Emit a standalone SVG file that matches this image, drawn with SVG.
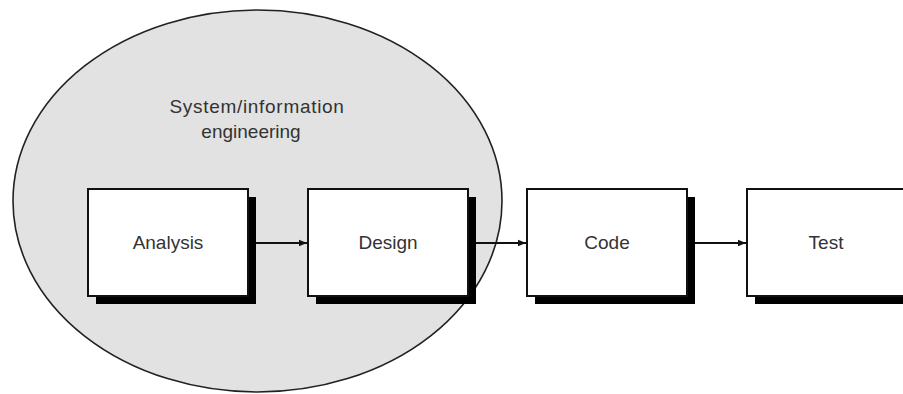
<svg xmlns="http://www.w3.org/2000/svg" width="903" height="394" viewBox="0 0 903 394">
  <style>
    .box { fill: #ffffff; stroke: #111111; stroke-width: 2; }
    .shadow { fill: #000000; }
    .label { font-family: "Liberation Sans", Arial, sans-serif; font-size: 19px; fill: #333333; text-anchor: middle; }
    .conn { stroke: #111111; stroke-width: 2; fill: none; marker-end: url(#arrow); }
  </style>
  <defs>
    <marker id="arrow" viewBox="0 0 10 10" refX="10" refY="5" markerWidth="8" markerHeight="8" markerUnits="userSpaceOnUse" orient="auto">
      <path d="M0,1 L10,5 L0,9 Z" fill="#111111"/>
    </marker>
  </defs>
  <rect width="903" height="394" fill="#ffffff"/>

  <!-- scope of system/information engineering -->
  <g id="scope">
    <ellipse cx="257.5" cy="201" rx="244.5" ry="191" fill="#e2e2e2" stroke="#222222" stroke-width="1.6"/>
    <text class="label" x="257" y="113" letter-spacing="0.7">System/information</text>
    <text class="label" x="251" y="138">engineering</text>
  </g>

  <g id="analysis">
    <rect class="shadow" x="96" y="197" width="160" height="107"/>
    <rect class="box" x="88" y="189" width="160" height="107"/>
    <text class="label" x="168" y="249">Analysis</text>
  </g>

  <g id="design">
    <rect class="shadow" x="316" y="197" width="160" height="107"/>
    <rect class="box" x="308" y="189" width="160" height="107"/>
    <text class="label" x="388" y="249">Design</text>
  </g>

  <g id="code">
    <rect class="shadow" x="535" y="197" width="160" height="107"/>
    <rect class="box" x="527" y="189" width="160" height="107"/>
    <text class="label" x="607" y="249">Code</text>
  </g>

  <g id="test">
    <rect class="shadow" x="755" y="197" width="160" height="107"/>
    <rect class="box" x="747" y="189" width="160" height="107"/>
    <text class="label" x="826" y="249">Test</text>
  </g>

  <g id="connectors">
    <line class="conn" x1="256" y1="243" x2="307" y2="243"/>
    <line class="conn" x1="476" y1="243" x2="526" y2="243"/>
    <line class="conn" x1="695" y1="243" x2="746" y2="243"/>
  </g>
</svg>
